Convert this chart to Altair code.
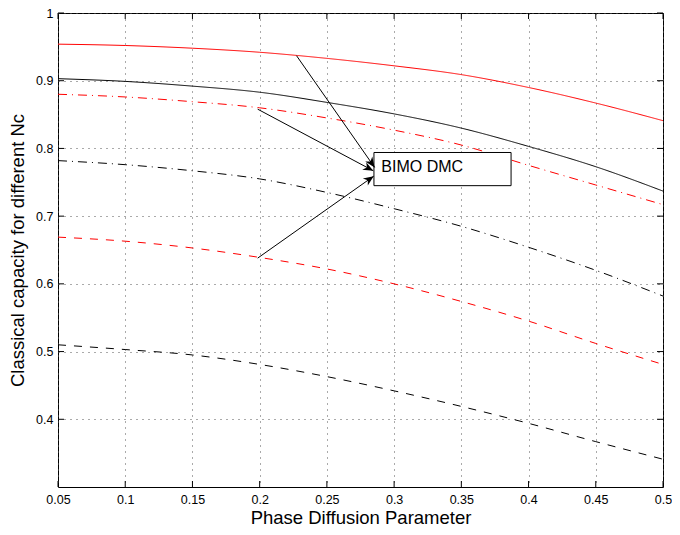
import math
import altair as alt
import pandas as pd

# ---------------- data ----------------
x_vals = [0.05, 0.1, 0.15, 0.2, 0.25, 0.3, 0.35, 0.4, 0.45, 0.5]

red_solid = [0.954, 0.952, 0.948, 0.942, 0.933, 0.922, 0.909, 0.890, 0.867, 0.841]
black_solid = [0.903, 0.899, 0.892, 0.883, 0.868, 0.851, 0.830, 0.803, 0.773, 0.737]
red_dashdot = [0.880, 0.876, 0.869, 0.860, 0.845, 0.827, 0.805, 0.775, 0.746, 0.717]
black_dashdot = [0.782, 0.776, 0.767, 0.755, 0.735, 0.711, 0.685, 0.654, 0.620, 0.582]
red_dashed = [0.669, 0.663, 0.653, 0.639, 0.622, 0.600, 0.574, 0.545, 0.512, 0.481]
black_dashed = [0.510, 0.503, 0.495, 0.481, 0.463, 0.442, 0.419, 0.394, 0.367, 0.341]

series_names = ["red_solid", "black_solid", "red_dashdot",
                "black_dashdot", "red_dashed", "black_dashed"]
series_values = [red_solid, black_solid, red_dashdot,
                 black_dashdot, red_dashed, black_dashed]
series_colors = ["#ff0000", "#000000", "#ff0000", "#000000", "#ff0000", "#000000"]
series_dash = [[1, 0], [1, 0], [9, 5, 1, 5], [9, 5, 1, 5], [8, 8], [8, 8]]

x_ticks = [0.05, 0.1, 0.15, 0.2, 0.25, 0.3, 0.35, 0.4, 0.45, 0.5]
y_ticks = [0.4, 0.5, 0.6, 0.7, 0.8, 0.9, 1.0]

x_title = "Phase Diffusion Parameter"
y_title = "Classical capacity for different Nc"

box_x = [0.285, 0.387]
box_y = [0.745, 0.794]
label_text = ["BIMO DMC"]
label_x = [0.2905]
label_y = [0.7645]

arrow_x_start = [0.2274, 0.1985, 0.1985]
arrow_y_start = [0.937, 0.858, 0.638]
arrow_x_end = [0.2855, 0.2845, 0.2848]
arrow_y_end = [0.772, 0.767, 0.759]

# ---------------- layout ----------------
W, H = 605, 474
X_DOM = [0.05, 0.5]
Y_DOM = [0.3, 1.0]
FONT = "Liberation Sans"
LABEL_SIZE = 12.5
TITLE_SIZE = 18.5

xs = alt.Scale(domain=X_DOM, nice=False, zero=False)
ys = alt.Scale(domain=Y_DOM, nice=False, zero=False)

common_axis = dict(
    grid=True, ticks=False, domain=False,
    labelFlush=False, labelOverlap=False, labelBound=False,
    labelFont=FONT, labelFontSize=LABEL_SIZE, labelColor="black",
    titleFont=FONT, titleFontSize=TITLE_SIZE, titleFontWeight="normal",
    titleColor="black", titleBaseline="alphabetic",
    gridColor="#555555", gridDash=[1, 5], gridWidth=1, gridOpacity=1,
)
x_axis = alt.Axis(values=x_ticks, format=".2~f", title=x_title,
                  labelPadding=6, titleY=36, **common_axis)
y_axis = alt.Axis(values=y_ticks, format=".1~f", title=y_title,
                  labelPadding=5, titleX=-35, **common_axis)


def X(field):
    return alt.X(field, scale=xs, axis=x_axis, title=x_title)


def Y(field):
    return alt.Y(field, scale=ys, axis=y_axis, title=y_title)


rows = []
for name, vals in zip(series_names, series_values):
    for xv, yv in zip(x_vals, vals):
        rows.append({"series": name, "x": xv, "y": yv})
df = pd.DataFrame(rows)

lines = alt.Chart(df).mark_line(strokeWidth=1, interpolate="monotone").encode(
    x=X("x:Q"),
    y=Y("y:Q"),
    color=alt.Color("series:N", scale=alt.Scale(domain=series_names, range=series_colors), legend=None),
    strokeDash=alt.StrokeDash("series:N", scale=alt.Scale(domain=series_names, range=series_dash), legend=None),
    detail="series:N",
)

box_df = pd.DataFrame({"x1": [box_x[0]], "x2": [box_x[1]], "y1": [box_y[0]], "y2": [box_y[1]]})
box = alt.Chart(box_df).mark_rect(fill="white", stroke="black", strokeWidth=1).encode(
    x=X("x1:Q"), x2="x2:Q",
    y=Y("y1:Q"), y2="y2:Q",
)

text_df = pd.DataFrame({"x": label_x, "y": label_y, "t": label_text})
label = alt.Chart(text_df).mark_text(
    align="left", baseline="alphabetic", fontSize=16, font=FONT, color="black"
).encode(
    x=X("x:Q"),
    y=Y("y:Q"),
    text="t:N",
)


def px(v):
    return (v - X_DOM[0]) / (X_DOM[1] - X_DOM[0]) * W


def py(v):
    return (Y_DOM[1] - v) / (Y_DOM[1] - Y_DOM[0]) * H


angles = []
for xa, ya, xb, yb in zip(arrow_x_start, arrow_y_start, arrow_x_end, arrow_y_end):
    dx = px(xb) - px(xa)
    dy = py(yb) - py(ya)
    angles.append(math.degrees(math.atan2(dx, -dy)) % 360)

arrow_df = pd.DataFrame({
    "xa": arrow_x_start, "ya": arrow_y_start,
    "xb": arrow_x_end, "yb": arrow_y_end, "angle": angles,
})
shafts = alt.Chart(arrow_df).mark_rule(color="black", strokeWidth=1).encode(
    x=X("xa:Q"), x2="xb:Q",
    y=Y("ya:Q"), y2="yb:Q",
)
head_path = "M0,0L0.42,1L0,0.7L-0.42,1Z"
heads = alt.Chart(arrow_df).mark_point(
    shape=head_path, filled=True, size=420, color="black", opacity=1, strokeWidth=0
).encode(
    x=X("xb:Q"),
    y=Y("yb:Q"),
    angle=alt.Angle("angle:Q", scale=None),
)

xt = pd.DataFrame({"t": x_ticks})
yt = pd.DataFrame({"t": y_ticks})
tick_bottom = alt.Chart(xt).mark_rule(color="black", strokeWidth=1).encode(
    x=X("t:Q"), y=alt.value(H), y2=alt.value(H - 6))
tick_top = alt.Chart(xt).mark_rule(color="black", strokeWidth=1).encode(
    x=X("t:Q"), y=alt.value(0), y2=alt.value(6))
tick_left = alt.Chart(yt).mark_rule(color="black", strokeWidth=1).encode(
    y=Y("t:Q"), x=alt.value(0), x2=alt.value(6))
tick_right = alt.Chart(yt).mark_rule(color="black", strokeWidth=1).encode(
    y=Y("t:Q"), x=alt.value(W), x2=alt.value(W - 6))

chart = alt.layer(
    lines, box, label, shafts, heads, tick_bottom, tick_top, tick_left, tick_right
).properties(
    width=W, height=H,
    autosize=alt.AutoSizeParams(type="none"),
    padding={"left": 50, "top": 5, "right": 9, "bottom": 40},
    background="white",
).configure_view(
    stroke="black", strokeWidth=1,
).configure_axis(
    labelFont=FONT, labelFontSize=LABEL_SIZE, labelColor="black",
    titleFont=FONT, titleFontSize=TITLE_SIZE, titleFontWeight="normal", titleColor="black",
)

chart.save("out.html", embed_options={"renderer": "svg", "actions": False})
